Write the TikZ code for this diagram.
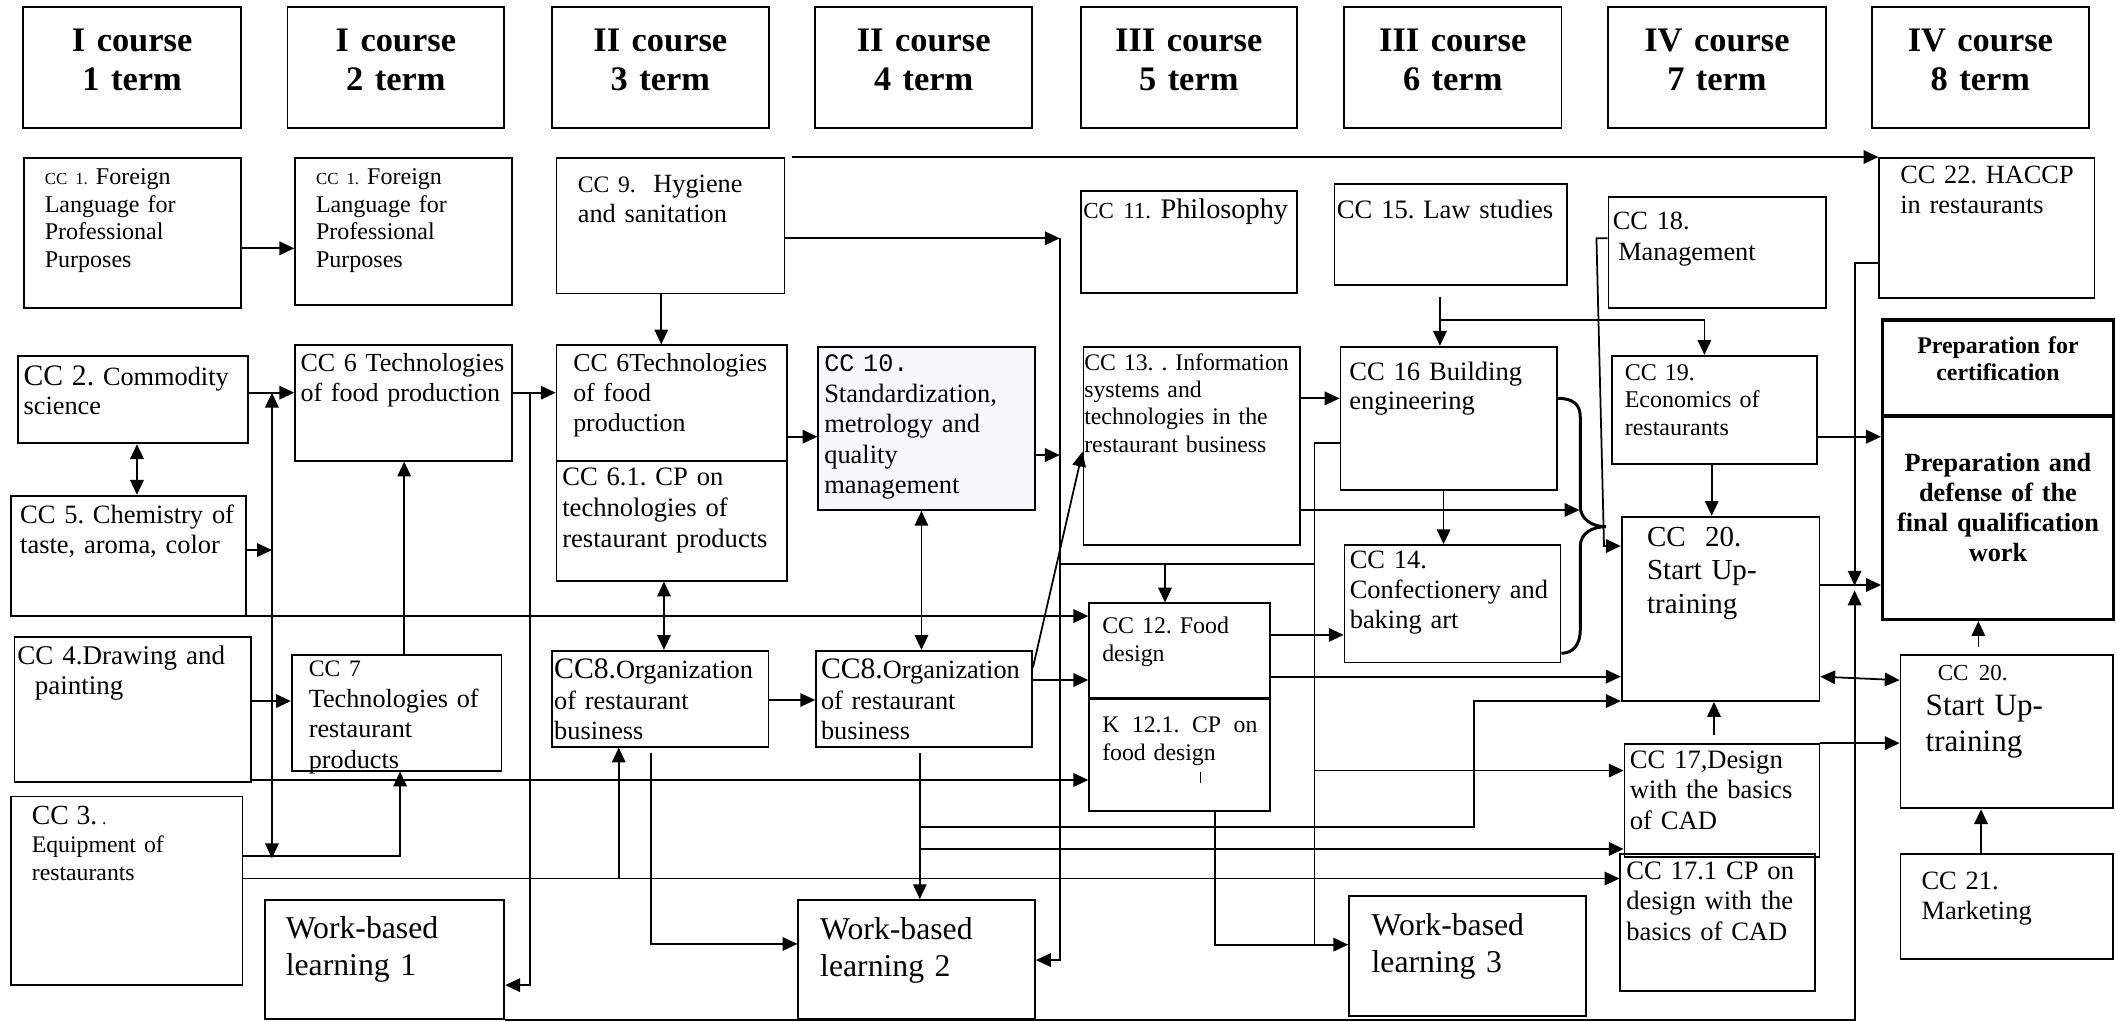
\documentclass[tikz,border=0pt]{standalone}
\usepackage{fontspec}
\setmainfont{Liberation Serif}
\newfontfamily\ccmono{Liberation Mono}
\usetikzlibrary{arrows.meta,fit}
\definecolor{cellgray}{HTML}{F7F8FA}
\newcommand{\fsz}[2]{\fontsize{#1}{#2}\selectfont}
\frenchspacing

\begin{document}
\begin{tikzpicture}[
    x=1pt, y=-1pt,
    >={Triangle[length=11pt,width=10pt]},
    cell/.style={draw, line width=1.3pt, inner sep=0pt, fit={#1}},
    heavy/.style={cell={#1}, line width=2.5pt},
    txt/.style={anchor=base west, text width=220pt, align=left, inner sep=0pt, font=\fsz{19.6}{22.5}},
    head/.style={anchor=base, text width=170pt, align=center, inner sep=0pt, font=\bfseries\fsz{25.5}{29}},
    link/.style={line width=1.3pt}
]
\useasboundingbox (0,0) rectangle (1568,757);

% term headers
\node[cell={(17.3,5.4) (178.5,94.8)}] (h1) {};
\node[cell={(213,5.4) (373.7,94.8)}] (h2) {};
\node[cell={(409,5.4) (569.6,94.8)}] (h3) {};
\node[cell={(604,5.4) (765,94.8)}] (h4) {};
\node[cell={(800.8,5.4) (961,94.8)}] (h5) {};
\node[cell={(996,5.4) (1157,94.8)}] (h6) {};
\node[cell={(1191.6,5.4) (1353,94.8)}] (h7) {};
\node[cell={(1387,5.4) (1548,94.8)}] (h8) {};
\node[head] (h1t) at (h1.center |- 0,38.3) {I course\\1 term};
\node[head] (h2t) at (h2.center |- 0,38.3) {I course\\2 term};
\node[head] (h3t) at (h3.center |- 0,38.3) {II course\\3 term};
\node[head] (h4t) at (h4.center |- 0,38.3) {II course\\4 term};
\node[head] (h5t) at (h5.center |- 0,38.3) {III course\\5 term};
\node[head] (h6t) at (h6.center |- 0,38.3) {III course\\6 term};
\node[head] (h7t) at (h7.center |- 0,38.3) {IV course\\7 term};
\node[head] (h8t) at (h8.center |- 0,38.3) {IV course\\8 term};

% disciplines
\node[cell={(17.9,117) (178.6,228.2)}] (cc1a) {};
\node[cell={(218.7,117) (379.4,225.8)}] (cc1b) {};
\node[cell={(412.4,117) (581.4,217.4)}] (cc9) {};
\node[cell={(800.8,141.5) (960.9,216.9)}] (cc11) {};
\node[cell={(988.9,136.6) (1161,211.2)}] (cc15) {};
\node[cell={(1192,146) (1353,228)}] (cc18) {};
\node[cell={(1392.6,117) (1552,221)}] (cc22) {};

\node[cell={(13.3,263.6) (183.5,328.5)}] (cc2) {};
\node[cell={(218.7,255.9) (379.4,341.4)}] (cc6a) {};
\node[cell={(412.4,255.9) (583.4,341.4)}] (cc6b) {};
\node[cell={(412.4,341.4) (583.4,430.3)}] (cc61) {};
\node[cell={(606.4,256.9) (767,377.9)}, fill=cellgray] (cc10) {};
\node[cell={(802.8,256.9) (963.2,403.9)}] (cc13) {};
\node[cell={(993.3,256.9) (1153.8,363.1)}] (cc16) {};
\node[cell={(1194.4,263.6) (1346.5,343.8)}] (cc19) {};
\node[heavy={(1395.1,237.1) (1566,308.3)}] (prepc) {};
\node[heavy={(1395.1,308.3) (1566,459)}] (prepd) {};

\node[cell={(8.2,367.3) (182.3,456.5)}] (cc5) {};
\node[cell={(996.3,403.9) (1156.4,491)}] (cc14) {};
\node[cell={(1201.7,382.9) (1348.2,519.5)}] (cc20a) {};

\node[cell={(807.1,447.1) (941,518.2)}] (cc12) {};
\node[cell={(807.1,518.2) (941,600.7)}] (cc121) {};
\node[cell={(10.7,471.8) (186,579.7)}] (cc4) {};
\node[cell={(216.2,485.4) (371.7,571.1)}] (cc7) {};
\node[cell={(409.3,482.2) (569.4,553.3)}] (cc8a) {};
\node[cell={(604.7,482.2) (764.8,553.3)}] (cc8b) {};
\node[cell={(1408.3,485.4) (1566,599)}] (cc20b) {};
\node[cell={(1203.8,551.3) (1348.2,634.8)}] (cc17) {};
\node[cell={(1200.7,633) (1345.2,734.1)}] (cc171) {};
\node[cell={(1408.3,633) (1566,710.4)}] (cc21) {};
\node[cell={(8.2,590.3) (179.7,730)}] (cc3) {};
\node[cell={(196.3,666.9) (373.7,755.3)}] (wbl1) {};
\node[cell={(591.6,666.9) (767,755.3)}] (wbl2) {};
\node[cell={(999.7,664) (1175.5,752.9)}] (wbl3) {};
\draw[line width=2.6pt] (cc121.north west) -- (cc121.north east);

% texts
\node[txt, font=\fsz{17.8}{20.4}] (cc1a-t) at (33,137) {{\fsz{12.5}{14}CC 1.} Foreign\\Language for\\Professional\\Purposes};
\node[txt, font=\fsz{17.8}{20.4}] (cc1b-t) at (234,137) {{\fsz{12.5}{14}CC 1.} Foreign\\Language for\\Professional\\Purposes};
\node[txt, font=\fsz{19.5}{22}] (cc9-t) at (428,143) {{\fsz{17.5}{20}CC 9.}\ \ Hygiene\\and sanitation};
\node[txt, font=\fsz{21}{24}] (cc11-t) at (802.5,162) {{\fsz{17}{20}CC 11.} Philosophy};
\node[txt, font=\fsz{19.7}{22}] (cc15-t) at (990.5,162) {CC 15. Law studies};
\node[txt, font=\fsz{19.5}{23}] (cc18-t) at (1195,170) {CC 18.\\\hspace*{4pt}Management};
\node[txt, font=\fsz{19.5}{22}] (cc22-t) at (1408,136) {CC 22. HACCP\\in restaurants};

\node[txt, font=\fsz{19.5}{22.2}] (cc2-t) at (17.3,285.3) {{\fsz{22}{24}CC 2.} Commodity\\science};
\node[txt, font=\fsz{19.3}{22.2}] (cc6a-t) at (222.5,275.4) {CC 6 Technologies\\of food production};
\node[txt, font=\fsz{19.2}{22.3}] (cc6b-t) at (424.6,275.4) {CC 6Technologies\\of food\\production};
\node[txt, font=\fsz{19.7}{22.9}] (cc61-t) at (416.5,359.9) {CC 6.1. CP on\\technologies of\\restaurant products};
\node[txt, font=\fsz{19.6}{22.6}] (cc10-t) at (610.6,275.4) {{\ccmono\fsz{18.6}{22}CC 10.}\\Standardization,\\metrology and\\quality\\management};
\node[txt, font=\fsz{17.6}{20.3}] (cc13-t) at (803.3,274.2) {CC 13. . Information\\systems and\\technologies in the\\restaurant business};
\node[txt, font=\fsz{19.7}{22.2}] (cc16-t) at (999.7,281.6) {CC 16 Building\\engineering};
\node[txt, font=\fsz{17.8}{20.4}] (cc19-t) at (1203.8,281.6) {CC 19.\\Economics of\\restaurants};
\node[head, text width=165pt, font=\bfseries\fsz{17.7}{19.8}] (prepc-t) at (prepc.center |- 0,261.8) {Preparation for\\certification};
\node[head, text width=165pt, font=\bfseries\fsz{19.5}{22.2}] (prepd-t) at (prepd.center |- 0,349.5) {Preparation and\\defense of the\\final qualification\\work};

\node[txt, font=\fsz{19.6}{22.2}] (cc5-t) at (14.8,387.8) {CC 5. Chemistry of\\taste, aroma, color};
\node[txt, font=\fsz{19.6}{22.2}] (cc14-t) at (1000,421.1) {CC 14.\\Confectionery and\\baking art};
\node[txt, font=\fsz{21.5}{25}] (cc20a-t) at (1220.3,404.6) {CC\ \ 20.\\Start Up-\\training};

\node[txt, font=\fsz{17.7}{20.5}] (cc12-t) at (816.6,469.8) {CC 12. Food\\design};
\node[txt, font=\fsz{17.6}{20.3}] (cc121-t) at (816.6,542.9) {\hbox to 115pt{K\hfil 12.1.\hfil CP\hfil on}\\food design};
\node[txt, font=\fsz{20}{22.7}] (cc4-t) at (12.7,492.3) {CC 4.Drawing and\\\hspace*{13pt}painting};
\node[txt, font=\fsz{19.4}{22.6}] (cc7-t) at (228.7,501.4) {{\fsz{17.5}{20}CC 7}\\Technologies of\\restaurant\\products};
\node[txt, font=\fsz{19.5}{22.8}] (cc8a-t) at (410.5,502.7) {{\fsz{22}{24}CC8.}Organization\\of restaurant\\business};
\node[txt, font=\fsz{19.5}{22.8}] (cc8b-t) at (608.2,502.7) {{\fsz{22}{24}CC8.}Organization\\of restaurant\\business};
\node[txt, font=\fsz{23}{26.5}] (cc20b-t) at (1426.8,503.9) {\hspace*{9pt}{\fsz{17}{20}CC 20.}\\Start Up-\\training};
\node[txt, font=\fsz{19.7}{22.6}] (cc17-t) at (1207.6,569.4) {CC 17,Design\\with the basics\\of CAD};
\node[txt, font=\fsz{19.7}{22.5}] (cc171-t) at (1205,651.6) {CC 17.1 CP on\\design with the\\basics of CAD};
\node[txt, font=\fsz{19.6}{21.8}] (cc21-t) at (1423.7,659.5) {CC 21.\\Marketing};
\node[txt, font=\fsz{17.6}{20.5}] (cc3-t) at (23.4,611.3) {{\fsz{20.5}{21}CC 3.\,{\fsz{13}{14}.}}\\Equipment of\\restaurants};
\node[txt, font=\fsz{23.5}{27.9}] (wbl1-t) at (211.6,695.3) {Work-based\\learning 1};
\node[txt, font=\fsz{23.5}{27.9}] (wbl2-t) at (607.6,696) {Work-based\\learning 2};
\node[txt, font=\fsz{23.5}{27.9}] (wbl3-t) at (1016.2,692.9) {Work-based\\learning 3};
\draw[line width=1pt] (889.5,572) -- (889.5,580);

% rails and junctions
\coordinate (railA) at (201.5,291);
\coordinate (railAend) at (201.5,636);
\coordinate (railB) at (392.6,291);
\coordinate (railC) at (785.3,176.6);
\coordinate (railCend) at (785.3,711.4);
\coordinate (railD) at (974.1,328.5);
\coordinate (railDend) at (974.1,700);
\coordinate (rowE) at (785.3,418.2);
\coordinate (rowEend) at (974.1,418.2);
\coordinate (upA) at (458.5,651);
\coordinate (splitA) at (681.6,612.6);
\coordinate (splitB) at (681.6,629.1);
\coordinate (splitC) at (1067,237.1);
\coordinate (brace) at (1170.4,377.9);
\coordinate (railF) at (1374.3,195.1);
\coordinate (meetF) at (1374.3,434);
\coordinate (meetG) at (1374.3,437.5);
\coordinate (railH) at (1183,176.6);
\coordinate (railHend) at (1188.6,404.6);

% links
\draw[link,->] (cc1a.east |- 0,184) -- (cc1b.west |- 0,184);
\draw[link,->] (cc2.east |- railA) -- (cc6a.west |- railA);
\draw[link,<->] (railA) -- (railAend);
\draw[link,->] (cc5.east |- 0,407.6) -- (railA |- 0,407.6);
\draw[link,<->] (cc2.south -| 101.5,0) -- (cc5.north -| 101.5,0);
\draw[link,->] (cc6a.east |- railB) -- (cc6b.west |- railB);
\draw[link,->] (railB) |- (wbl1.east |- 0,730);
\draw[link,->] (cc7.north -| 299.5,0) -- (cc6a.south -| 299.5,0);
\draw[link,->] (cc4.east |- 0,519.5) -- (cc7.west |- 0,519.5);
\draw[link,->] (cc3.east |- 0,634.3) -| (cc7.south -| 296.5,0);
\draw[link,->] (cc3.east |- upA) -- (cc171.west |- upA);
\draw[link,->] (upA) -- (cc8a.south -| upA);
\draw[link,->] (cc5.east |- 0,456.5) -- (cc12.west |- 0,456.5);
\draw[link,->] (cc4.east |- 0,578) -- (cc121.west |- 0,578);
\draw[link,->] (cc9.south -| 490,0) -- (cc6b.north -| 490,0);
\draw[link,->] (cc9.east |- railC) -- (railC);
\draw[link,->] (railC) |- (wbl2.east |- railCend);
\draw[link,->] (cc10.east |- 0,337.2) -- (railC |- 0,337.2);
\draw[link,->] ([xshift=5pt]cc9.north east) -- (cc22.north west);
\draw[link,->] (cc6b.east |- 0,323.6) -- (cc10.west |- 0,323.6);
\draw[link,<->] (cc61.south -| 492,0) -- (cc8a.north -| 492,0);
\draw[link,<->] (cc10.south -| 682.8,0) -- (cc8b.north -| 682.8,0);
\draw[link,->] (cc8a.east |- 0,518.7) -- (cc8b.west |- 0,518.7);
\draw[link,->,shorten <=4pt] (cc8a.south -| 482.4,0) |- (wbl2.west |- 0,699.5);
\draw[link,->,shorten <=4pt] (cc8b.south -| splitA) -- (wbl2.north -| splitA);
\draw[link,->] (splitA) -| (1092.1,519.5) -- (cc20a.west |- 0,519.5);
\draw[link,->] (splitB) -- (cc17.west |- splitB);
\draw[link,->] (cc8b.east |- 0,503.9) -- (cc12.west |- 0,503.9);
\draw[link,->] ([yshift=-13pt]cc8b.north east) -- (cc13.west |- 0,334.7);
\draw[link] (rowE) -- (rowEend);
\draw[link,->] (rowE -| 863.3,0) -- (cc12.north -| 863.3,0);
\draw[link,->] (cc13.east |- 0,295.2) -- (cc16.west |- 0,295.2);
\draw[link] (cc16.west |- railD) -- (railD) -- (railDend);
\draw[link,->] (cc121.south -| 900.2,0) |- (wbl3.west |- railDend);
\draw[link,->] (railD |- 0,571) -- (cc17.west |- 0,571);
\draw[link,->] (cc13.east |- brace) -- (brace);
\draw[link,->] (cc16.south -| 1069.7,0) -- (cc14.north -| 1069.7,0);
\draw[link,->] (cc12.east |- 0,470.5) -- (cc14.west |- 0,470.5);
\draw[link,->] (cc12.east |- 0,501.4) -- (cc20a.west |- 0,501.4);
\draw[link,->,shorten <=8pt] (cc15.south -| splitC) -- (cc16.north -| splitC);
\draw[link,->] (splitC) -| (cc19.north -| 1263,0);
\draw[link,->] (cc18.west |- railH) -- (railH) -- (railHend) -- (cc20a.west |- railHend);
\draw[line width=2.2pt] (cc16.east |- 0,295.2) .. controls (1166,295.2) and (1171,300) .. (1171,309)
    -- (1171,375) .. controls (1171,385) and (1180,390.3) .. (1190,390.3)
    .. controls (1180,390.3) and (1171,395) .. (1171,405)
    -- (1171,467) .. controls (1171,477) and (1166,484.1) .. (cc14.east |- 0,484.1);
\draw[link,->] (cc19.south -| 1268.4,0) -- (cc20a.north -| 1268.4,0);
\draw[link,->] (cc19.east |- 0,323.6) -- (prepd.west |- 0,323.6);
\draw[link,->] (cc20a.east |- 0,433.5) -- (prepd.west |- 0,433.5);
\draw[link,->] (cc22.west |- railF) -| (meetF);
\draw[link,->] (wbl1.south east) -| (meetG);
\draw[link,<->] (cc20a.east |- 0,501.4) -- (cc20b.west |- 0,504);
\draw[link,->,shorten <=6pt] (cc17.north -| 1270.1,0) -- (cc20a.south -| 1270.1,0);
\draw[link,->] (cc17.north east) -- (cc20b.west |- cc17.north east);
\draw[link,->] (cc21.north -| 1468,0) -- (cc20b.south -| 1468,0);
\draw[link,->,shorten <=5pt] (cc20b.north -| 1466,0) -- (prepd.south -| 1466,0);
\end{tikzpicture}
\end{document}
